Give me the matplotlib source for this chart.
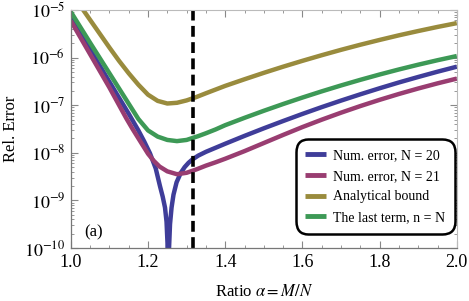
import numpy as np
import matplotlib
matplotlib.use("Agg")
import matplotlib.pyplot as plt
from matplotlib.ticker import MultipleLocator, LogLocator, NullFormatter

plt.rcParams['font.family'] = ['Liberation Serif', 'DejaVu Serif']
plt.rcParams['mathtext.fontset'] = 'stix'

# ---- data (log10 of relative error) ----
alpha_blue = [1.0, 1.05, 1.10, 1.15, 1.175, 1.19, 1.205, 1.22, 1.231, 1.238, 1.244, 1.248,
              1.2505, 1.2525, 1.2545, 1.257, 1.261, 1.266, 1.274, 1.285, 1.295, 1.305,
              1.315, 1.33, 1.35, 1.40, 1.45, 1.50, 1.55, 1.60, 1.65, 1.70, 1.75, 1.80,
              1.85, 1.90, 1.95, 2.0]
log_blue = [-5.15, -5.83, -6.51, -7.18, -7.53, -7.76, -8.01, -8.33, -8.70, -8.92, -9.15, -9.45,
            -9.9, -12.0, -10.0, -9.5, -9.15, -8.88, -8.62, -8.42, -8.30, -8.21,
            -8.14, -8.06, -7.98, -7.81, -7.645, -7.486, -7.333, -7.184, -7.041, -6.904, -6.772, -6.645,
            -6.523, -6.408, -6.297, -6.192]

alpha_purple = [1.0, 1.05, 1.10, 1.144, 1.16, 1.18, 1.20, 1.215, 1.23, 1.25, 1.275, 1.30,
                1.325, 1.35, 1.375, 1.40, 1.45, 1.50, 1.55, 1.60, 1.65, 1.70, 1.75, 1.80,
                1.85, 1.90, 1.95, 2.0]
log_purple = [-5.23, -5.93, -6.63, -7.28, -7.50, -7.76, -8.02, -8.17, -8.29, -8.39, -8.45, -8.42,
              -8.35, -8.27, -8.20, -8.125, -7.965, -7.795, -7.625, -7.46, -7.305, -7.158, -7.019, -6.888,
              -6.765, -6.650, -6.542, -6.442]

alpha_gold = [1.02, 1.032, 1.05, 1.075, 1.10, 1.125, 1.15, 1.175, 1.20, 1.225, 1.25,
              1.275, 1.30, 1.325, 1.35, 1.40, 1.45, 1.50, 1.55, 1.60, 1.65, 1.70, 1.75,
              1.80, 1.85, 1.90, 1.95, 2.0]
log_gold = [-4.86, -5.00, -5.21, -5.50, -5.79, -6.07, -6.33, -6.57, -6.78, -6.91, -6.965,
            -6.95, -6.90, -6.83, -6.75, -6.595, -6.456, -6.321, -6.192, -6.069, -5.951, -5.838, -5.731,
            -5.630, -5.533, -5.443, -5.357, -5.277]

alpha_green = [1.0, 1.05, 1.10, 1.15, 1.175, 1.20, 1.225, 1.25, 1.275, 1.30, 1.315,
               1.33, 1.35, 1.375, 1.40, 1.45, 1.50, 1.55, 1.60, 1.65, 1.70, 1.75,
               1.80, 1.85, 1.90, 1.95, 2.0]
log_green = [-5.04, -5.69, -6.33, -6.97, -7.29, -7.53, -7.66, -7.73, -7.755, -7.73, -7.69,
             -7.65, -7.59, -7.51, -7.42, -7.266, -7.118, -6.976, -6.840, -6.710, -6.586, -6.468,
             -6.356, -6.250, -6.150, -6.056, -5.968]

alpha_star = 1.316

labels = ["Num. error, N = 20", "Num. error, N = 21", "Analytical bound", "The last term, n = N"]
colors = ["#3f3d99", "#993d71", "#998b3d", "#3d9956"]

fig = plt.figure(figsize=(4.69, 3.01), dpi=100)
ax = fig.add_axes([0.151, 0.176, 0.823, 0.791])

series = [(alpha_blue, log_blue), (alpha_purple, log_purple),
          (alpha_gold, log_gold), (alpha_green, log_green)]
handles = []
for i in range(4):
    a, l = series[i]
    h, = ax.plot(a, 10.0 ** np.array(l), color=colors[i], lw=3.2,
                 solid_capstyle='butt', solid_joinstyle='round', label=labels[i])
    handles.append(h)

ax.axvline(alpha_star, color='black', lw=2.6, dashes=(3.0, 1.5))

ax.set_yscale('log')
ax.set_xlim(1.0, 2.0)
ax.set_ylim(1e-10, 1e-5)

ax.xaxis.set_minor_locator(MultipleLocator(0.05))
ax.yaxis.set_minor_locator(LogLocator(base=10, subs=np.arange(2, 10), numticks=20))
ax.yaxis.set_minor_formatter(NullFormatter())
xt = [1.0, 1.2, 1.4, 1.6, 1.8, 2.0]
ax.set_xticks(xt)
ax.set_xticklabels(["%.1f" % v for v in xt])
yt = [1e-10, 1e-9, 1e-8, 1e-7, 1e-6, 1e-5]
ax.set_yticks(yt)
ax.set_yticklabels([r"$10^{%d}$" % int(round(np.log10(v))) for v in yt])

ax.tick_params(which='both', direction='in', top=True, right=True,
               color='#888888', labelsize=13, pad=4)
ax.tick_params(which='major', length=5, width=0.8)
ax.tick_params(which='minor', length=2.5, width=0.6)
for s in ['left', 'bottom']:
    ax.spines[s].set_color('#777777')
    ax.spines[s].set_linewidth(0.9)
for s in ['top', 'right']:
    ax.spines[s].set_color('#bbbbbb')
    ax.spines[s].set_linewidth(0.8)

ax.set_xlabel(r"Ratio $\alpha = M/N$", fontsize=12, labelpad=10)
ax.set_ylabel("Rel. Error", fontsize=12, labelpad=4)

ax.text(0.035, 0.065, "(a)", transform=ax.transAxes, fontsize=12, ha='left', va='center')

leg = ax.legend(handles=handles, loc='lower right', bbox_to_anchor=(0.995, 0.06),
                fontsize=10, frameon=True, fancybox=True, handlelength=1.5,
                handletextpad=0.5, labelspacing=0.55, borderpad=0.7, borderaxespad=0.0)
frame = leg.get_frame()
frame.set_edgecolor('black')
frame.set_linewidth(1.8)
frame.set_boxstyle('round', pad=0.0, rounding_size=0.9)
frame.set_alpha(1.0)
for lh in leg.get_lines():
    lh.set_linewidth(3.5)

fig.savefig("out.png", dpi=100)
